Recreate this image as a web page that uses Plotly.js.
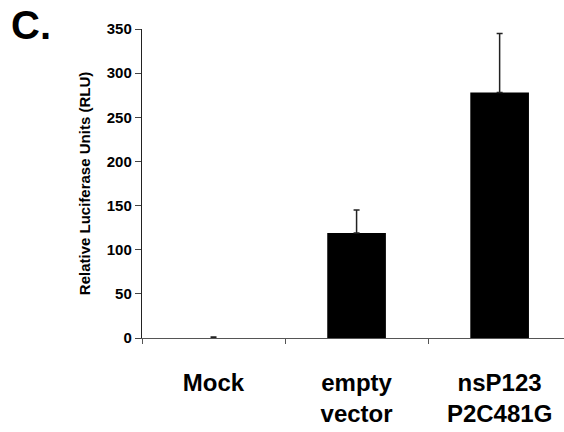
<!DOCTYPE html>
<html>
<head>
<meta charset="utf-8">
<script src="https://cdn.plot.ly/plotly-3.0.1.min.js"></script>
<style>html,body{margin:0;padding:0;background:#fff;}#chart{width:564px;height:432px;}</style>
</head>
<body>
<div id="chart"></div>
<script>
var categories = ["Mock", "empty<br>vector", "nsP123<br>P2C481G"];
var values = [0, 119, 278];
var errors = [1, 26, 67];
var yTicks = [0, 50, 100, 150, 200, 250, 300, 350];

var trace = {
  type: "bar",
  x: categories,
  y: values,
  width: 0.41,
  marker: {color: "#000000", line: {color: "#000000", width: 0}},
  error_y: {type: "data", array: errors, symmetric: false, arrayminus: [0,0,0], visible: true, color: "#222222", thickness: 1.5, width: 3}
};

var font = "Liberation Sans, Arial, Helvetica, sans-serif";
var layout = {
  width: 564, height: 432,
  margin: {l: 142, r: 0, t: 29, b: 94},
  paper_bgcolor: "#ffffff", plot_bgcolor: "#ffffff",
  showlegend: false,
  font: {family: font, color: "#000000"},
  xaxis: {
    type: "category",
    range: [-0.5, 2.45],
    showline: true, linecolor: "#555555", linewidth: 1.3,
    ticks: "outside", tickson: "boundaries", ticklen: 5, tickcolor: "#555555", tickwidth: 1,
    showgrid: false, zeroline: false,
    tickfont: {family: font, size: 24, color: "#000000", weight: "bold"},
    ticklabelstandoff: 23,
    fixedrange: true
  },
  yaxis: {
    range: [0, 350],
    tickvals: yTicks,
    ticktext: yTicks.map(String),
    showline: true, linecolor: "#222222", linewidth: 1.2,
    ticks: "outside", ticklen: 6, tickcolor: "#444444", tickwidth: 1,
    showgrid: false, zeroline: false,
    tickfont: {family: font, size: 15, color: "#000000", weight: "bold"},
    title: {text: "Relative Luciferase Units (RLU)", font: {family: font, size: 15, color: "#000000", weight: "bold"}, standoff: 12},
    fixedrange: true
  },
  annotations: [{
    text: "C.", xref: "paper", yref: "paper", x: -0.315, y: 1.09,
    xanchor: "left", yanchor: "top", showarrow: false,
    font: {family: font, size: 40, color: "#000000", weight: "bold"}
  }]
};

Plotly.newPlot("chart", [trace], layout, {staticPlot: true, displayModeBar: false});
</script>
</body>
</html>
